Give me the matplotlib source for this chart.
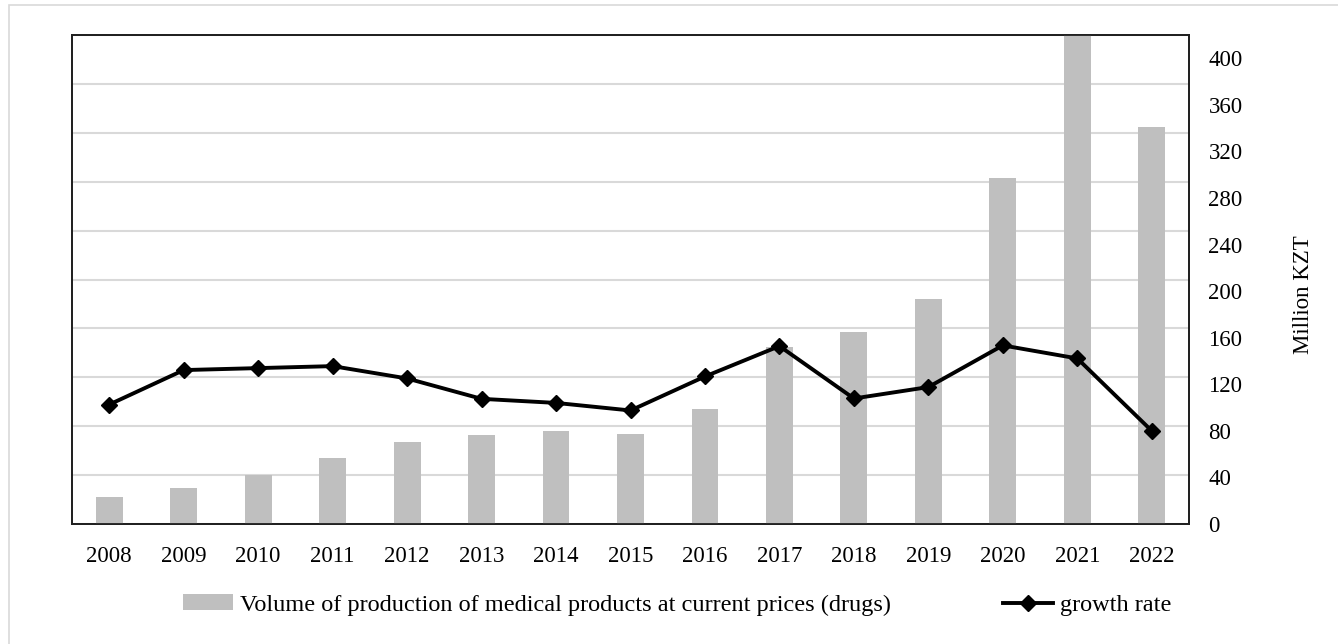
import numpy as np
import matplotlib
matplotlib.use("Agg")
import matplotlib.pyplot as plt
from matplotlib.patches import Rectangle

# data
years = ['2008', '2009', '2010', '2011', '2012', '2013', '2014', '2015',
         '2016', '2017', '2018', '2019', '2020', '2021', '2022']
volume = [23.5, 31, 41.9, 56.8, 70.8, 76.3, 79.7, 77.7,
          99.2, 152, 164.6, 193.5, 297.6, 430, 340.6]
growth = [102.6, 132.2, 133.9, 135.6, 125, 107.5, 104, 97.5,
          126.7, 152.8, 107.8, 117.6, 153.4, 142.2, 80]

bar_label = 'Volume of production of medical products at current prices (drugs)'
line_label = 'growth rate'

plt.rcParams['font.family'] = ['Liberation Serif', 'DejaVu Serif']
plt.rcParams['font.size'] = 16.5

fig = plt.figure(figsize=(13.38, 6.44), dpi=100)
# light outer frame
fig.patches.append(Rectangle((9/1338, -0.01), 1.02, 1 - 5/644 + 0.01,
                             transform=fig.transFigure, fill=False,
                             edgecolor='#d9d9d9', lw=1.2))

ax = fig.add_axes([72/1338, 1 - 524/644, (1189 - 72)/1338, (524 - 35)/644])
ax2 = ax.twinx()
x = np.arange(len(years))

# primary (hidden) axis only provides the gridlines
ax.set_ylim(0, 420)
ax.set_yticks(np.linspace(0, 420, 11))
ax.tick_params(axis='y', left=False, right=False, labelleft=False, length=0)
ax.grid(axis='y', color='#d9d9d9', lw=1.5)
ax.set_axisbelow(True)
ax.set_xlim(-0.5, len(years) - 0.5)
ax.set_xticks(x)
ax.set_xticklabels(years)
ax.tick_params(axis='x', length=0, pad=16)

ax2.set_ylim(0, 420)
ax2.set_yticks(np.arange(0, 401, 40))
ax2.tick_params(axis='y', length=0, pad=14)
ax2.set_ylabel('Million KZT', rotation=90)
ax2.yaxis.set_label_coords(1.093, 0.47)

b = ax2.bar(x, volume, width=0.36, color='#bfbfbf', label=bar_label, zorder=2)
l, = ax2.plot(x, growth, color='black', lw=2.8, marker='D', ms=8.5,
              label=line_label, zorder=3)

for a in (ax, ax2):
    for s in a.spines.values():
        s.set_color('#202020')
        s.set_linewidth(1.3)

fig.legend([b, l], [bar_label, line_label], loc='center', ncol=2,
           bbox_to_anchor=(0.506, 1 - 605/644), frameon=False, fontsize=17.5,
           handlelength=2.06, handleheight=0.6, columnspacing=4.6,
           handletextpad=0.3)

fig.savefig('out.png', dpi=100)
